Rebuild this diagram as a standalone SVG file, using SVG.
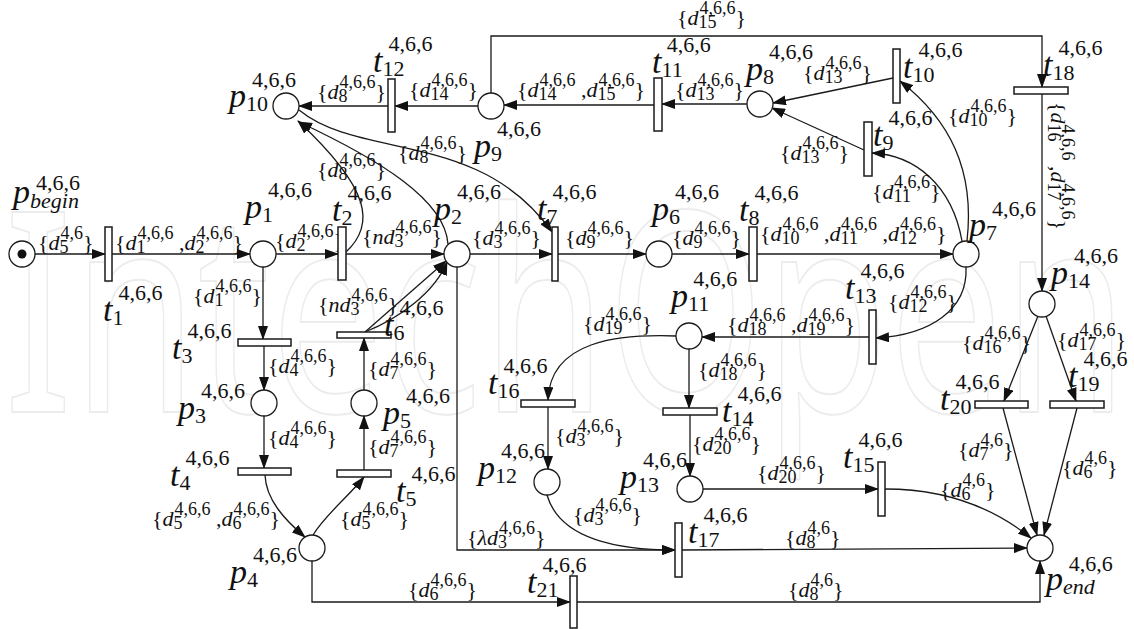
<svg xmlns="http://www.w3.org/2000/svg" width="1134" height="629" viewBox="0 0 1134 629">
<style>
.ln{fill:none;stroke:#1a1a1a;stroke-width:1.3}
.ar{marker-end:url(#ah)}
.pl{fill:#fff;stroke:#1a1a1a;stroke-width:1.3}
.tr{fill:#fff;stroke:#1a1a1a;stroke-width:1.5}
.n{font-style:italic;font-size:34px;fill:#111}
.ns{font-style:normal;font-size:22px}
.ni{font-style:italic;font-size:22px}
.e{font-size:22px;fill:#111}
.i{font-style:italic}
.s{font-size:18px}
.wm{font-size:280px;fill:none;stroke:#ececec;stroke-width:2}
</style>
<defs>
<marker id="ah" markerUnits="userSpaceOnUse" markerWidth="14" markerHeight="10" refX="13" refY="5" orient="auto"><path d="M0,0 L14,5 L0,10 z" fill="#111"/></marker>
</defs>
<rect width="1134" height="629" fill="#fff"/>
<text class="wm" font-family="Noto Sans, sans-serif" x="4" y="412" textLength="1124" lengthAdjust="spacingAndGlyphs">IntechOpen</text>

<g id="connectors">
<path class="ln ar" d="M35,254 H105"/>
<path class="ln ar" d="M112,254 H250"/>
<path class="ln ar" d="M276,254 H338"/>
<path class="ln ar" d="M346,254 H444"/>
<path class="ln ar" d="M470,254 H552"/>
<path class="ln ar" d="M558,254 H646"/>
<path class="ln ar" d="M672,254 H749"/>
<path class="ln ar" d="M757,254 H953"/>
<path class="ln ar" d="M869,337 H702"/>
<path class="ln ar" d="M689,349 V408"/>
<path class="ln ar" d="M548,407 V469"/>
<path class="ln ar" d="M690,415 V476"/>
<path class="ln ar" d="M703,489 H878"/>
<path class="ln ar" d="M682,550 L1027,548"/>
<path class="ln ar" d="M312,561 V602 H570"/>
<path class="ln ar" d="M577,602 H1040 V561"/>
<path class="ln ar" d="M457,267 V550 H675"/>
<path class="ln ar" d="M491,93 V36 H1042 V87"/>
<path class="ln ar" d="M1042,94 V291"/>
<path class="ln ar" d="M747,104 H662"/>
<path class="ln ar" d="M654,105 H504"/>
<path class="ln ar" d="M478,106 H395"/>
<path class="ln ar" d="M388,106 H299"/>
<path class="ln ar" d="M893,78 L773,103"/>
<path class="ln ar" d="M864,150 L772,108"/>
<path class="ln ar" d="M1038,316 L1004,401"/>
<path class="ln ar" d="M1046,316 L1076,401"/>
<path class="ln ar" d="M1003,408 L1037,535"/>
<path class="ln ar" d="M1077,408 L1044,535"/>
<path class="ln ar" d="M263,267 V339"/>
<path class="ln ar" d="M264,346 V390"/>
<path class="ln ar" d="M264,416 V468"/>
<path class="ln ar" d="M364,470 V416"/>
<path class="ln ar" d="M364,390 V338"/>
<path class="ln ar" d="M365,332 L446,261"/>
<path class="ln ar" d="M346,252 C375,225 372,190 298,121"/>
<path class="ln ar" d="M448,244 C445,200 380,160 299,122"/>
<path class="ln ar" d="M299,110 C360,160 480,130 552,232"/>
<path class="ln ar" d="M967,241 C975,170 950,120 900,81"/>
<path class="ln ar" d="M962,241 C952,185 915,155 872,153"/>
<path class="ln ar" d="M966,267 C968,310 930,335 876,338"/>
<path class="ln ar" d="M676,336 C620,334 550,340 548,400"/>
<path class="ln ar" d="M265,475 C266,500 285,520 305,537"/>
<path class="ln ar" d="M313,535 C325,515 350,495 364,477"/>
<path class="ln ar" d="M365,332 C400,318 435,292 447,262"/>
<path class="ln ar" d="M885,489 C940,489 990,505 1031,538"/>
<path class="ln ar" d="M547,495 C560,540 620,550 675,550"/>
</g>

<g id="connector-labels" font-family="Liberation Serif, Times New Roman, serif">
<text class="e" x="38" y="250">{<tspan class="i">d</tspan><tspan class="s" dy="3">5</tspan><tspan class="s" dx="-8" dy="-14">4,6</tspan><tspan dy="11">}</tspan></text>
<text class="e" x="115" y="250">{<tspan class="i">d</tspan><tspan class="s" dy="3">1</tspan><tspan class="s" dx="-8" dy="-14">4,6,6</tspan><tspan dy="11"> ,</tspan><tspan class="i">d</tspan><tspan class="s" dy="3">2</tspan><tspan class="s" dx="-8" dy="-14">4,6,6</tspan><tspan dy="11">}</tspan></text>
<text class="e" x="275" y="248">{<tspan class="i">d</tspan><tspan class="s" dy="3">2</tspan><tspan class="s" dx="-8" dy="-14">4,6,6</tspan><tspan dy="11">}</tspan></text>
<text class="e" x="362" y="244">{<tspan class="i">nd</tspan><tspan class="s" dy="3">3</tspan><tspan class="s" dx="-8" dy="-14">4,6,6</tspan><tspan dy="11">}</tspan></text>
<text class="e" x="472" y="245">{<tspan class="i">d</tspan><tspan class="s" dy="3">3</tspan><tspan class="s" dx="-8" dy="-14">4,6,6</tspan><tspan dy="11">}</tspan></text>
<text class="e" x="565" y="245">{<tspan class="i">d</tspan><tspan class="s" dy="3">9</tspan><tspan class="s" dx="-8" dy="-14">4,6,6</tspan><tspan dy="11">}</tspan></text>
<text class="e" x="672" y="245">{<tspan class="i">d</tspan><tspan class="s" dy="3">9</tspan><tspan class="s" dx="-8" dy="-14">4,6,6</tspan><tspan dy="11">}</tspan></text>
<text class="e" x="760" y="241">{<tspan class="i">d</tspan><tspan class="s" dy="3">10</tspan><tspan class="s" dx="-17" dy="-14">4,6,6</tspan><tspan dy="11"> ,</tspan><tspan class="i">d</tspan><tspan class="s" dy="3">11</tspan><tspan class="s" dx="-17" dy="-14">4,6,6</tspan><tspan dy="11"> ,</tspan><tspan class="i">d</tspan><tspan class="s" dy="3">12</tspan><tspan class="s" dx="-17" dy="-14">4,6,6</tspan><tspan dy="11">}</tspan></text>
<text class="e" x="888" y="309">{<tspan class="i">d</tspan><tspan class="s" dy="3">12</tspan><tspan class="s" dx="-17" dy="-14">4,6,6</tspan><tspan dy="11">}</tspan></text>
<text class="e" x="727" y="332">{<tspan class="i">d</tspan><tspan class="s" dy="3">18</tspan><tspan class="s" dx="-17" dy="-14">4,6,6</tspan><tspan dy="11"> ,</tspan><tspan class="i">d</tspan><tspan class="s" dy="3">19</tspan><tspan class="s" dx="-17" dy="-14">4,6,6</tspan><tspan dy="11">}</tspan></text>
<text class="e" x="583" y="331">{<tspan class="i">d</tspan><tspan class="s" dy="3">19</tspan><tspan class="s" dx="-17" dy="-14">4,6,6</tspan><tspan dy="11">}</tspan></text>
<text class="e" x="698" y="377">{<tspan class="i">d</tspan><tspan class="s" dy="3">18</tspan><tspan class="s" dx="-17" dy="-14">4,6,6</tspan><tspan dy="11">}</tspan></text>
<text class="e" x="555" y="443">{<tspan class="i">d</tspan><tspan class="s" dy="3">3</tspan><tspan class="s" dx="-8" dy="-14">4,6,6</tspan><tspan dy="11">}</tspan></text>
<text class="e" x="692" y="451">{<tspan class="i">d</tspan><tspan class="s" dy="3">20</tspan><tspan class="s" dx="-17" dy="-14">4,6,6</tspan><tspan dy="11">}</tspan></text>
<text class="e" x="757" y="480">{<tspan class="i">d</tspan><tspan class="s" dy="3">20</tspan><tspan class="s" dx="-17" dy="-14">4,6,6</tspan><tspan dy="11">}</tspan></text>
<text class="e" x="940" y="497">{<tspan class="i">d</tspan><tspan class="s" dy="3">6</tspan><tspan class="s" dx="-8" dy="-14">4,6</tspan><tspan dy="11">}</tspan></text>
<text class="e" x="958" y="457">{<tspan class="i">d</tspan><tspan class="s" dy="3">7</tspan><tspan class="s" dx="-8" dy="-14">4,6</tspan><tspan dy="11">}</tspan></text>
<text class="e" x="1062" y="475">{<tspan class="i">d</tspan><tspan class="s" dy="3">6</tspan><tspan class="s" dx="-8" dy="-14">4,6</tspan><tspan dy="11">}</tspan></text>
<text class="e" x="785" y="545">{<tspan class="i">d</tspan><tspan class="s" dy="3">8</tspan><tspan class="s" dx="-8" dy="-14">4,6</tspan><tspan dy="11">}</tspan></text>
<text class="e" x="788" y="597">{<tspan class="i">d</tspan><tspan class="s" dy="3">8</tspan><tspan class="s" dx="-8" dy="-14">4,6</tspan><tspan dy="11">}</tspan></text>
<text class="e" x="408" y="597">{<tspan class="i">d</tspan><tspan class="s" dy="3">6</tspan><tspan class="s" dx="-8" dy="-14">4,6,6</tspan><tspan dy="11">}</tspan></text>
<text class="e" x="467" y="545">{<tspan class="i">λd</tspan><tspan class="s" dy="3">3</tspan><tspan class="s" dx="-8" dy="-14">4,6,6</tspan><tspan dy="11">}</tspan></text>
<text class="e" x="573" y="522">{<tspan class="i">d</tspan><tspan class="s" dy="3">3</tspan><tspan class="s" dx="-8" dy="-14">4,6,6</tspan><tspan dy="11">}</tspan></text>
<text class="e" x="152" y="526">{<tspan class="i">d</tspan><tspan class="s" dy="3">5</tspan><tspan class="s" dx="-8" dy="-14">4,6,6</tspan><tspan dy="11"> ,</tspan><tspan class="i">d</tspan><tspan class="s" dy="3">6</tspan><tspan class="s" dx="-8" dy="-14">4,6,6</tspan><tspan dy="11">}</tspan></text>
<text class="e" x="340" y="526">{<tspan class="i">d</tspan><tspan class="s" dy="3">5</tspan><tspan class="s" dx="-8" dy="-14">4,6,6</tspan><tspan dy="11">}</tspan></text>
<text class="e" x="368" y="454">{<tspan class="i">d</tspan><tspan class="s" dy="3">7</tspan><tspan class="s" dx="-8" dy="-14">4,6,6</tspan><tspan dy="11">}</tspan></text>
<text class="e" x="368" y="376">{<tspan class="i">d</tspan><tspan class="s" dy="3">7</tspan><tspan class="s" dx="-8" dy="-14">4,6,6</tspan><tspan dy="11">}</tspan></text>
<text class="e" x="318" y="312">{<tspan class="i">nd</tspan><tspan class="s" dy="3">3</tspan><tspan class="s" dx="-8" dy="-14">4,6,6</tspan><tspan dy="11">}</tspan></text>
<text class="e" x="268" y="373">{<tspan class="i">d</tspan><tspan class="s" dy="3">4</tspan><tspan class="s" dx="-8" dy="-14">4,6,6</tspan><tspan dy="11">}</tspan></text>
<text class="e" x="268" y="445">{<tspan class="i">d</tspan><tspan class="s" dy="3">4</tspan><tspan class="s" dx="-8" dy="-14">4,6,6</tspan><tspan dy="11">}</tspan></text>
<text class="e" x="193" y="303">{<tspan class="i">d</tspan><tspan class="s" dy="3">1</tspan><tspan class="s" dx="-8" dy="-14">4,6,6</tspan><tspan dy="11">}</tspan></text>
<text class="e" x="317" y="177">{<tspan class="i">d</tspan><tspan class="s" dy="3">8</tspan><tspan class="s" dx="-8" dy="-14">4,6,6</tspan><tspan dy="11">}</tspan></text>
<text class="e" x="398" y="160">{<tspan class="i">d</tspan><tspan class="s" dy="3">8</tspan><tspan class="s" dx="-8" dy="-14">4,6,6</tspan><tspan dy="11">}</tspan></text>
<text class="e" x="317" y="99">{<tspan class="i">d</tspan><tspan class="s" dy="3">8</tspan><tspan class="s" dx="-8" dy="-14">4,6,6</tspan><tspan dy="11">}</tspan></text>
<text class="e" x="409" y="97">{<tspan class="i">d</tspan><tspan class="s" dy="3">14</tspan><tspan class="s" dx="-17" dy="-14">4,6,6</tspan><tspan dy="11">}</tspan></text>
<text class="e" x="517" y="97">{<tspan class="i">d</tspan><tspan class="s" dy="3">14</tspan><tspan class="s" dx="-17" dy="-14">4,6,6</tspan><tspan dy="11"> ,</tspan><tspan class="i">d</tspan><tspan class="s" dy="3">15</tspan><tspan class="s" dx="-17" dy="-14">4,6,6</tspan><tspan dy="11">}</tspan></text>
<text class="e" x="675" y="97">{<tspan class="i">d</tspan><tspan class="s" dy="3">13</tspan><tspan class="s" dx="-17" dy="-14">4,6,6</tspan><tspan dy="11">}</tspan></text>
<text class="e" x="677" y="25">{<tspan class="i">d</tspan><tspan class="s" dy="3">15</tspan><tspan class="s" dx="-17" dy="-14">4,6,6</tspan><tspan dy="11">}</tspan></text>
<text class="e" x="803" y="80">{<tspan class="i">d</tspan><tspan class="s" dy="3">13</tspan><tspan class="s" dx="-17" dy="-14">4,6,6</tspan><tspan dy="11">}</tspan></text>
<text class="e" x="780" y="160">{<tspan class="i">d</tspan><tspan class="s" dy="3">13</tspan><tspan class="s" dx="-17" dy="-14">4,6,6</tspan><tspan dy="11">}</tspan></text>
<text class="e" x="872" y="199">{<tspan class="i">d</tspan><tspan class="s" dy="3">11</tspan><tspan class="s" dx="-17" dy="-14">4,6,6</tspan><tspan dy="11">}</tspan></text>
<text class="e" x="948" y="123">{<tspan class="i">d</tspan><tspan class="s" dy="3">10</tspan><tspan class="s" dx="-17" dy="-14">4,6,6</tspan><tspan dy="11">}</tspan></text>
<text class="e" transform="translate(1051,102) rotate(90)" x="0" y="0">{<tspan class="i">d</tspan><tspan class="s" dy="3">16</tspan><tspan class="s" dx="-17" dy="-14">4,6,6</tspan><tspan dy="11"> ,</tspan><tspan class="i">d</tspan><tspan class="s" dy="3">17</tspan><tspan class="s" dx="-17" dy="-14">4,6,6</tspan><tspan dy="11">}</tspan></text>
<text class="e" x="962" y="350">{<tspan class="i">d</tspan><tspan class="s" dy="3">16</tspan><tspan class="s" dx="-17" dy="-14">4,6,6</tspan><tspan dy="11">}</tspan></text>
<text class="e" x="1057" y="347">{<tspan class="i">d</tspan><tspan class="s" dy="3">17</tspan><tspan class="s" dx="-17" dy="-14">4,6,6</tspan><tspan dy="11">}</tspan></text>
</g>

<g id="places" font-family="Liberation Serif, Times New Roman, serif">
<g id="p_begin"><circle class="pl" cx="22" cy="254" r="13"/><circle cx="22" cy="254" r="4.5" fill="#111"/><text class="n" x="13" y="203">p<tspan class="ni" dy="5">begin</tspan><tspan class="ns" dx="-43" dy="-18">4,6,6</tspan></text></g>
<g id="p1"><circle class="pl" cx="263" cy="254" r="13"/><text class="n" x="245" y="218">p<tspan class="ns" dy="4">1</tspan><tspan class="ns" dx="-5" dy="-25">4,6,6</tspan></text></g>
<g id="p2"><circle class="pl" cx="457" cy="254" r="13"/><text class="n" x="434" y="220">p<tspan class="ns" dy="4">2</tspan><tspan class="ns" dx="-5" dy="-25">4,6,6</tspan></text></g>
<g id="p3"><circle class="pl" cx="264" cy="403" r="13"/><text class="n" x="178" y="419">p<tspan class="ns" dy="4">3</tspan><tspan class="ns" dx="-5" dy="-25">4,6,6</tspan></text></g>
<g id="p4"><circle class="pl" cx="312" cy="548" r="13"/><text class="n" x="230" y="583">p<tspan class="ns" dy="4">4</tspan><tspan class="ns" dx="-5" dy="-25">4,6,6</tspan></text></g>
<g id="p5"><circle class="pl" cx="364" cy="403" r="13"/><text class="n" x="383" y="424">p<tspan class="ns" dy="4">5</tspan><tspan class="ns" dx="-5" dy="-25">4,6,6</tspan></text></g>
<g id="p6"><circle class="pl" cx="659" cy="254" r="13"/><text class="n" x="652" y="220">p<tspan class="ns" dy="4">6</tspan><tspan class="ns" dx="-5" dy="-25">4,6,6</tspan></text></g>
<g id="p7"><circle class="pl" cx="966" cy="254" r="13"/><text class="n" x="969" y="236">p<tspan class="ns" dy="4">7</tspan><tspan class="ns" dx="-5" dy="-24">4,6,6</tspan></text></g>
<g id="p8"><circle class="pl" cx="760" cy="104" r="13"/><text class="n" x="746" y="80">p<tspan class="ns" dy="4">8</tspan><tspan class="ns" dx="-5" dy="-25">4,6,6</tspan></text></g>
<g id="p9"><circle class="pl" cx="491" cy="106" r="13"/><text class="n" x="474" y="157">p<tspan class="ns" dy="4">9</tspan><tspan class="ns" dx="-5" dy="-25">4,6,6</tspan></text></g>
<g id="p10"><circle class="pl" cx="286" cy="106" r="13"/><text class="n" x="229" y="107">p<tspan class="ns" dy="4">10</tspan><tspan class="ns" dx="-16" dy="-24">4,6,6</tspan></text></g>
<g id="p11"><circle class="pl" cx="689" cy="336" r="13"/><text class="n" x="671" y="307">p<tspan class="ns" dy="4">11</tspan><tspan class="ns" dx="-16" dy="-25">4,6,6</tspan></text></g>
<g id="p12"><circle class="pl" cx="547" cy="482" r="13"/><text class="n" x="478" y="479">p<tspan class="ns" dy="4">12</tspan><tspan class="ns" dx="-16" dy="-25">4,6,6</tspan></text></g>
<g id="p13"><circle class="pl" cx="690" cy="489" r="13"/><text class="n" x="620" y="488">p<tspan class="ns" dy="4">13</tspan><tspan class="ns" dx="-16" dy="-25">4,6,6</tspan></text></g>
<g id="p14"><circle class="pl" cx="1042" cy="304" r="13"/><text class="n" x="1051" y="284">p<tspan class="ns" dy="4">14</tspan><tspan class="ns" dx="-16" dy="-25">4,6,6</tspan></text></g>
<g id="p_end"><circle class="pl" cx="1040" cy="548" r="13"/><text class="n" x="1046" y="590">p<tspan class="ni" dy="4">end</tspan><tspan class="ns" dx="-26" dy="-23">4,6,6</tspan></text></g>
</g>

<g id="transitions" font-family="Liberation Serif, Times New Roman, serif">
<g id="t1"><rect class="tr" x="105" y="227" width="7" height="54"/><text class="n" x="103" y="321">t<tspan class="ns" dy="4">1</tspan><tspan class="ns" dx="-5" dy="-25">4,6,6</tspan></text></g>
<g id="t2"><rect class="tr" x="338" y="227" width="8" height="53"/><text class="n" x="332" y="221">t<tspan class="ns" dy="4">2</tspan><tspan class="ns" dx="-5" dy="-25">4,6,6</tspan></text></g>
<g id="t3"><rect class="tr" x="238" y="339" width="53" height="7"/><text class="n" x="172" y="359">t<tspan class="ns" dy="4">3</tspan><tspan class="ns" dx="-5" dy="-25">4,6,6</tspan></text></g>
<g id="t4"><rect class="tr" x="238" y="468" width="53" height="7"/><text class="n" x="170" y="486">t<tspan class="ns" dy="4">4</tspan><tspan class="ns" dx="-5" dy="-25">4,6,6</tspan></text></g>
<g id="t5"><rect class="tr" x="337" y="470" width="54" height="7"/><text class="n" x="396" y="502">t<tspan class="ns" dy="4">5</tspan><tspan class="ns" dx="-5" dy="-25">4,6,6</tspan></text></g>
<g id="t6"><rect class="tr" x="337" y="332" width="54" height="6"/><text class="n" x="384" y="336">t<tspan class="ns" dy="4">6</tspan><tspan class="ns" dx="-5" dy="-25">4,6,6</tspan></text></g>
<g id="t7"><rect class="tr" x="552" y="227" width="6" height="54"/><text class="n" x="537" y="220">t<tspan class="ns" dy="4">7</tspan><tspan class="ns" dx="-5" dy="-25">4,6,6</tspan></text></g>
<g id="t8"><rect class="tr" x="749" y="227" width="8" height="54"/><text class="n" x="739" y="221">t<tspan class="ns" dy="4">8</tspan><tspan class="ns" dx="-5" dy="-25">4,6,6</tspan></text></g>
<g id="t9"><rect class="tr" x="864" y="122" width="8" height="54"/><text class="n" x="873" y="146">t<tspan class="ns" dy="4">9</tspan><tspan class="ns" dx="-5" dy="-25">4,6,6</tspan></text></g>
<g id="t10"><rect class="tr" x="893" y="49" width="7" height="54"/><text class="n" x="903" y="78">t<tspan class="ns" dy="4">10</tspan><tspan class="ns" dx="-16" dy="-25">4,6,6</tspan></text></g>
<g id="t11"><rect class="tr" x="654" y="78" width="8" height="53"/><text class="n" x="652" y="73">t<tspan class="ns" dy="4">11</tspan><tspan class="ns" dx="-16" dy="-25">4,6,6</tspan></text></g>
<g id="t12"><rect class="tr" x="388" y="79" width="7" height="53"/><text class="n" x="373" y="72">t<tspan class="ns" dy="4">12</tspan><tspan class="ns" dx="-16" dy="-25">4,6,6</tspan></text></g>
<g id="t13"><rect class="tr" x="869" y="310" width="7" height="54"/><text class="n" x="845" y="299">t<tspan class="ns" dy="4">13</tspan><tspan class="ns" dx="-16" dy="-25">4,6,6</tspan></text></g>
<g id="t14"><rect class="tr" x="663" y="408" width="54" height="7"/><text class="n" x="722" y="422">t<tspan class="ns" dy="4">14</tspan><tspan class="ns" dx="-16" dy="-25">4,6,6</tspan></text></g>
<g id="t15"><rect class="tr" x="878" y="462" width="7" height="54"/><text class="n" x="843" y="468">t<tspan class="ns" dy="4">15</tspan><tspan class="ns" dx="-16" dy="-25">4,6,6</tspan></text></g>
<g id="t16"><rect class="tr" x="521" y="400" width="54" height="7"/><text class="n" x="488" y="394">t<tspan class="ns" dy="4">16</tspan><tspan class="ns" dx="-16" dy="-25">4,6,6</tspan></text></g>
<g id="t17"><rect class="tr" x="675" y="523" width="7" height="54"/><text class="n" x="688" y="543">t<tspan class="ns" dy="4">17</tspan><tspan class="ns" dx="-16" dy="-25">4,6,6</tspan></text></g>
<g id="t18"><rect class="tr" x="1014" y="87" width="54" height="7"/><text class="n" x="1043" y="76">t<tspan class="ns" dy="4">18</tspan><tspan class="ns" dx="-16" dy="-25">4,6,6</tspan></text></g>
<g id="t19"><rect class="tr" x="1050" y="401" width="54" height="7"/><text class="n" x="1068" y="387">t<tspan class="ns" dy="4">19</tspan><tspan class="ns" dx="-16" dy="-25">4,6,6</tspan></text></g>
<g id="t20"><rect class="tr" x="975" y="401" width="53" height="7"/><text class="n" x="940" y="410">t<tspan class="ns" dy="4">20</tspan><tspan class="ns" dx="-16" dy="-25">4,6,6</tspan></text></g>
<g id="t21"><rect class="tr" x="570" y="576" width="7" height="52"/><text class="n" x="527" y="593">t<tspan class="ns" dy="4">21</tspan><tspan class="ns" dx="-16" dy="-25">4,6,6</tspan></text></g>
</g>
</svg>
